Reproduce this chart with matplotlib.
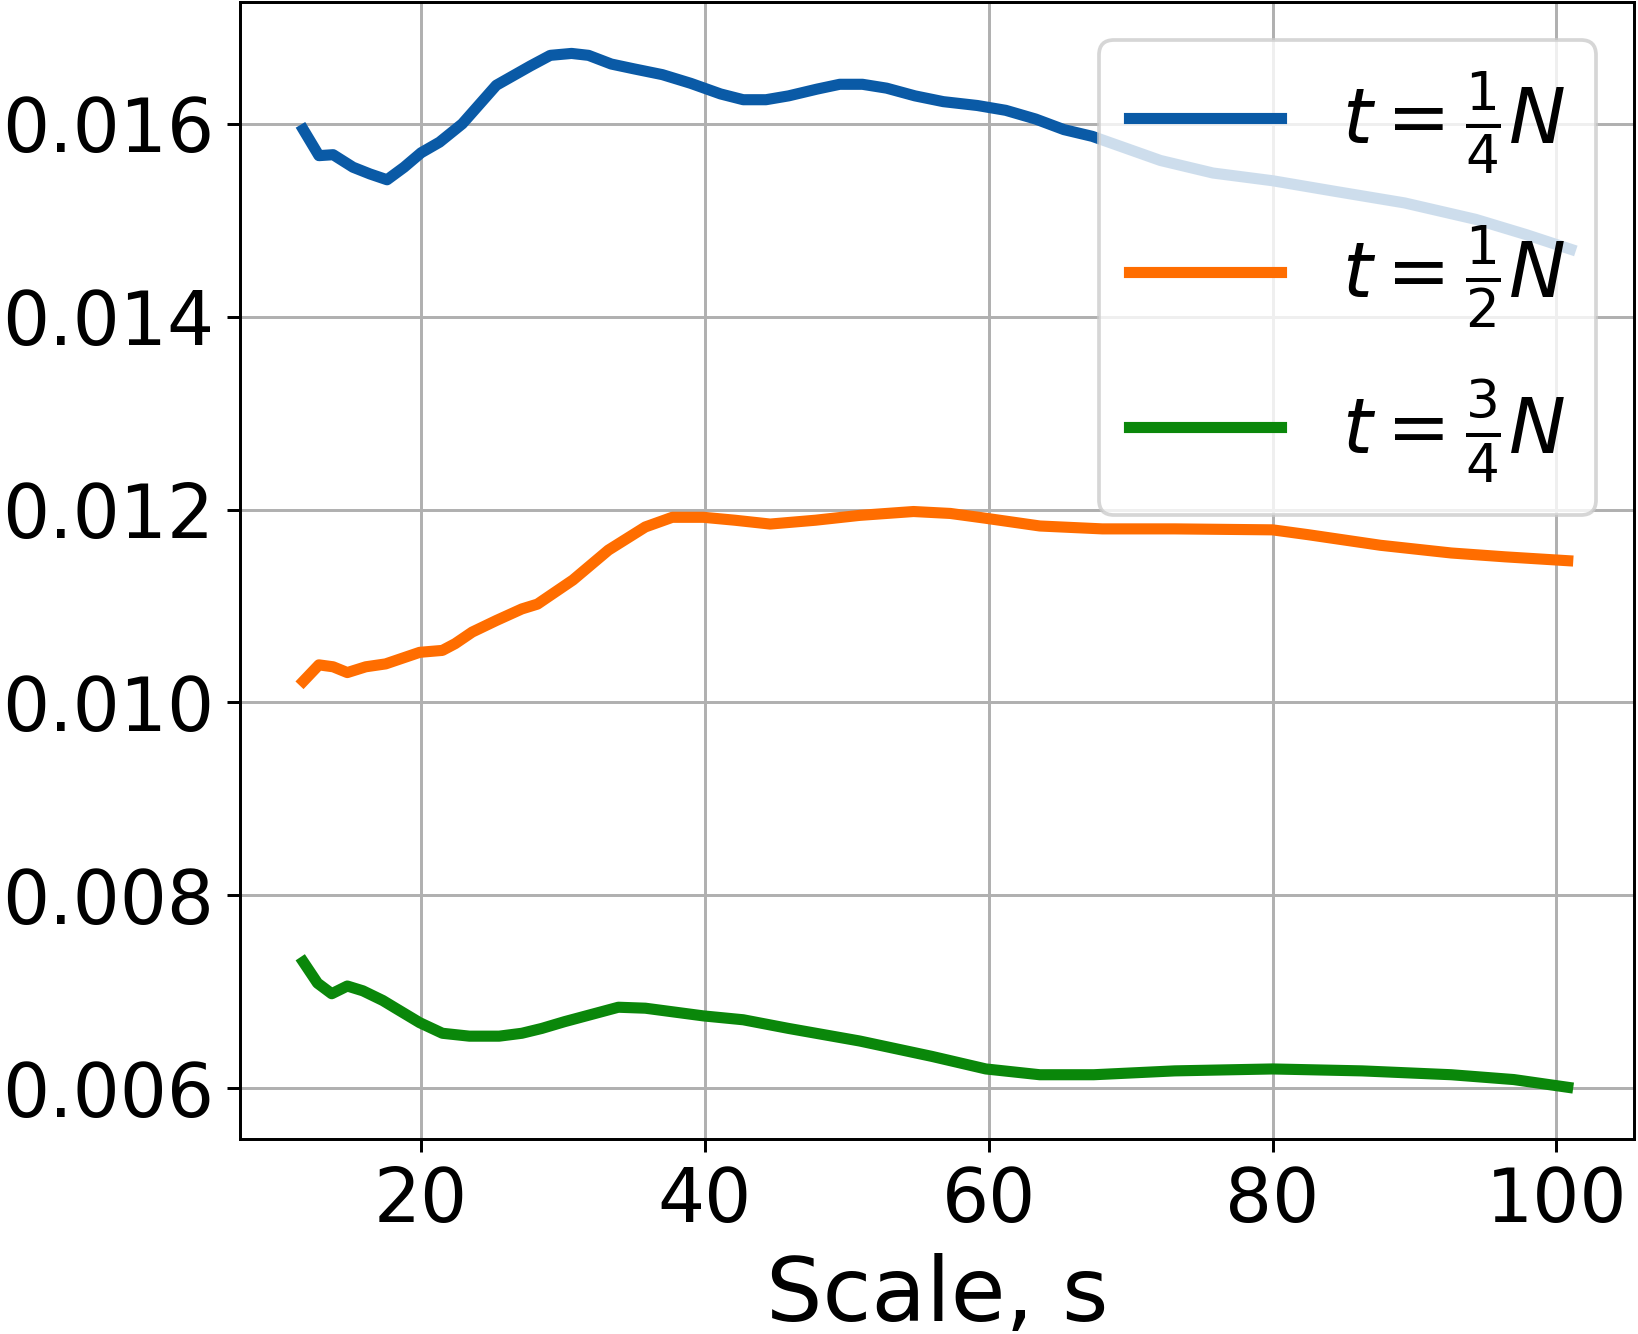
import matplotlib
matplotlib.use("Agg")
import matplotlib.pyplot as plt

# values
s_quarter = [11.7, 12.8, 13.8, 15.2, 16.4, 17.6, 18.8, 20.0, 21.3, 22.9, 24.1, 25.3, 26.5,
             27.7, 29.1, 30.6, 31.8, 33.4, 35.0, 37.0, 39.0, 41.1, 42.7, 44.3, 45.9, 47.9,
             49.5, 51.1, 52.8, 54.8, 56.8, 59.2, 61.2, 63.3, 65.3, 67.3, 72.1, 75.8, 80.0,
             84.4, 89.3, 94.3, 97.9, 101.0]
v_quarter = [0.01594, 0.01567, 0.01568, 0.01555, 0.01548, 0.01542, 0.01555, 0.01570, 0.01581,
             0.01600, 0.01620, 0.01640, 0.01650, 0.01660, 0.01671, 0.01673, 0.01671, 0.01662,
             0.01657, 0.01651, 0.01642, 0.01631, 0.01625, 0.01625, 0.01629, 0.01636, 0.01641,
             0.01641, 0.01637, 0.01629, 0.01623, 0.01619, 0.01614, 0.01605, 0.01594, 0.01587,
             0.01562, 0.01549, 0.01541, 0.01530, 0.01518, 0.01501, 0.01485, 0.01470]

s_half = [11.7, 12.8, 13.8, 14.8, 16.1, 17.5, 18.7, 19.9, 21.5, 22.4, 23.6, 25.3, 27.1, 28.2,
          30.7, 33.2, 35.8, 37.7, 39.9, 42.1, 44.6, 47.8, 50.9, 54.7, 57.3, 59.8, 63.6, 68.0,
          73.1, 80.0, 82.5, 87.6, 92.6, 96.4, 100.8]
v_half = [0.01022, 0.01039, 0.01037, 0.01031, 0.01037, 0.01040, 0.01046, 0.01052, 0.01054,
          0.01061, 0.01073, 0.01085, 0.01097, 0.01102, 0.01127, 0.01158, 0.01182, 0.01192,
          0.01192, 0.01189, 0.01185, 0.01189, 0.01194, 0.01198, 0.01196, 0.01191, 0.01183,
          0.01180, 0.01180, 0.01179, 0.01174, 0.01163, 0.01155, 0.01151, 0.01147]

s_three = [11.7, 12.7, 13.7, 14.8, 15.9, 17.3, 18.2, 19.9, 21.5, 23.4, 25.5, 27.1, 28.5, 30.1,
           33.9, 35.8, 39.9, 42.7, 45.9, 50.9, 56.0, 59.8, 63.6, 67.4, 73.1, 80.0, 86.3, 92.6,
           97.0, 100.8]
v_three = [0.00731, 0.00709, 0.00698, 0.00706, 0.00701, 0.00691, 0.00683, 0.00668, 0.00657,
           0.00654, 0.00654, 0.00657, 0.00662, 0.00669, 0.00684, 0.00683, 0.00675, 0.00671,
           0.00662, 0.00649, 0.00633, 0.00620, 0.00614, 0.00614, 0.00618, 0.00620, 0.00618,
           0.00614, 0.00609, 0.00601]

labels = [r'$t=\frac{1}{4}N$', r'$t=\frac{1}{2}N$', r'$t=\frac{3}{4}N$']
colors = ['#0a5aa6', '#ff6d00', '#0a870a']

dpi = 267
fig = plt.figure(figsize=(1638 / dpi, 1334 / dpi), dpi=dpi)
ax = fig.add_axes([0.1465, 0.1462, 0.851, 0.8525])

ax.plot(s_quarter, v_quarter, color=colors[0], linewidth=3, label=labels[0])
ax.plot(s_half, v_half, color=colors[1], linewidth=3, label=labels[1])
ax.plot(s_three, v_three, color=colors[2], linewidth=3, label=labels[2])

ax.set_xticks([20, 40, 60, 80, 100])
ax.set_yticks([0.006, 0.008, 0.010, 0.012, 0.014, 0.016])
ax.tick_params(labelsize=20)
ax.set_xlabel("Scale, s", fontsize=24)
ax.grid(True)
ax.legend(loc="upper right", fontsize=20.5, labelspacing=0.62)

fig.savefig("out.png", dpi=dpi)
